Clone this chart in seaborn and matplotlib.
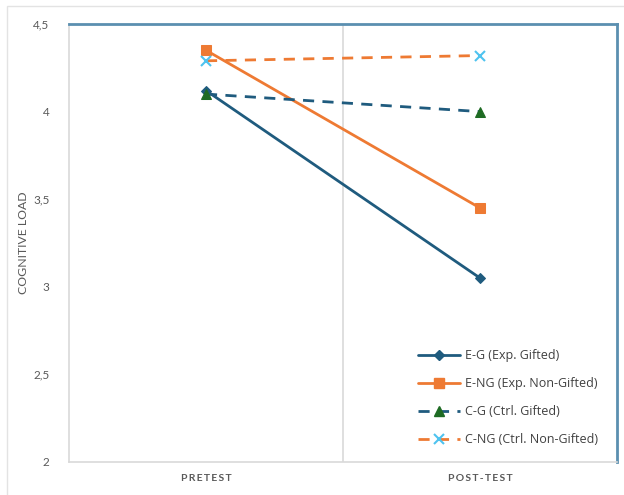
import matplotlib
matplotlib.use("Agg")
import matplotlib.pyplot as plt
import seaborn as sns
import pandas as pd
from matplotlib.lines import Line2D
from matplotlib.patches import Rectangle

phases = ["PRETEST", "POST-TEST"]
e_g = [4.12, 3.05]
e_ng = [4.35, 3.45]
c_g = [4.10, 4.00]
c_ng = [4.29, 4.32]
y_ticks = [2, 2.5, 3, 3.5, 4, 4.5]

sns.set_theme(style="white")
plt.rcParams["font.family"] = ["Lato", "DejaVu Sans"]

fig = plt.figure(figsize=(6.24, 4.95), dpi=100)
ax = fig.add_axes([0.1106, 0.0667, 0.8782, 0.8848])

# outer chart frame
fig.patches.append(Rectangle((7 / 624, -0.1), 1.2, 1 - 6 / 495 + 0.1,
                             transform=fig.transFigure, fill=False,
                             edgecolor="#e3e3e3", linewidth=1.0, zorder=0))

blue = "#1f5b7e"
orange = "#ee7a33"
green = "#1e6b23"
light_blue = "#4ec3ef"

series = [
    ("E-G (Exp. Gifted)", e_g, dict(color=blue, marker="D", markersize=5,
                                    markerfacecolor=blue, markeredgecolor=blue,
                                    linestyle="-")),
    ("E-NG (Exp. Non-Gifted)", e_ng, dict(color=orange, marker="s", markersize=7,
                                          markerfacecolor=orange, markeredgecolor=orange,
                                          linestyle="-")),
    ("C-G (Ctrl. Gifted)", c_g, dict(color=blue, marker="^", markersize=7,
                                     markerfacecolor=green, markeredgecolor=green,
                                     linestyle=(0, (4, 3)))),
    ("C-NG (Ctrl. Non-Gifted)", c_ng, dict(color=orange, marker="x", markersize=7,
                                           markerfacecolor=light_blue, markeredgecolor=light_blue,
                                           markeredgewidth=1.5, linestyle=(0, (4, 3)))),
]

handles = []
for label, values, style in series:
    df = pd.DataFrame({"phase": phases, "load": values})
    sns.lineplot(data=df, x="phase", y="load", ax=ax, linewidth=2.0,
                 sort=False, legend=False, **style)
    handles.append(Line2D([], [], linewidth=2.0, label=label, **style))

ax.set_xlim(-0.5, 1.5)
ax.set_ylim(2, 4.5)
ax.set_yticks(y_ticks)
ax.set_yticklabels([f"{v:g}".replace(".", ",") for v in y_ticks],
                   fontsize=8.5, color="#595959")
ax.set_xticks([0, 1])
ax.set_xticklabels(["\u2009".join(p) for p in phases], fontsize=7.5,
                   color="#595959", fontweight="bold")
ax.tick_params(axis="y", length=0, pad=14)
ax.tick_params(axis="x", length=0, pad=9)
ax.axvline(0.5, color="#d9d9d9", linewidth=1.2, zorder=0)

ax.set_xlabel("")
ax.set_ylabel("COGNITIVE LOAD", fontsize=8.8, color="#595959", labelpad=3)

for side in ("left", "bottom"):
    ax.spines[side].set_color("#d9d9d9")
    ax.spines[side].set_linewidth(1.2)
for side in ("top", "right"):
    ax.spines[side].set_color("#5b8fb0")
    ax.spines[side].set_linewidth(2.0)

leg = ax.legend(handles=handles, loc="lower right", bbox_to_anchor=(0.985, 0.01),
                frameon=False, prop={"family": ["Open Sans", "DejaVu Sans"], "size": 9},
                handlelength=3.4, labelspacing=1.2, handletextpad=0.35, numpoints=1)
for t in leg.get_texts():
    t.set_color("#404040")

fig.savefig("out.png", dpi=100)
